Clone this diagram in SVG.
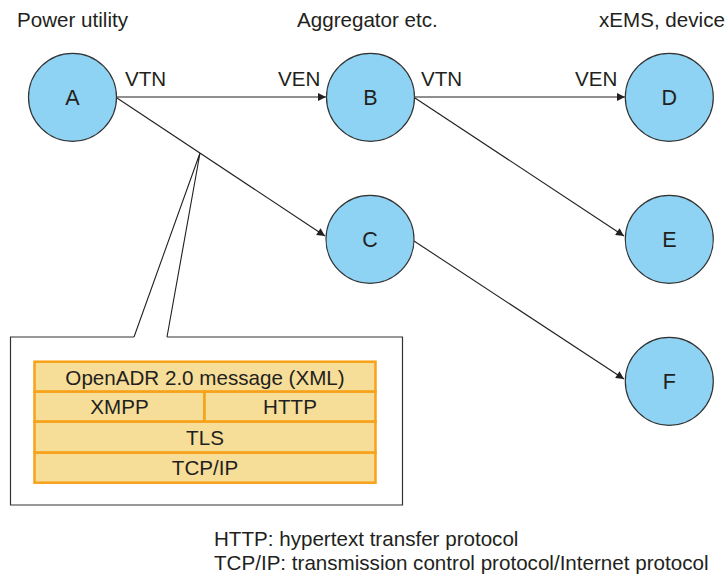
<svg xmlns="http://www.w3.org/2000/svg" width="727" height="575" viewBox="0 0 727 575">
<defs>
<style>
text{font-family:"Liberation Sans",Arial,Helvetica,sans-serif;fill:#231f20;font-size:20.6px}
.node circle{fill:#8ed3f3;stroke:#333;stroke-width:1.2}
.lbl{text-anchor:middle;font-size:21.5px}
.edge{stroke:#231f20;stroke-width:1.1;fill:none}
.layer{fill:#f7de98;stroke:#f7a21b;stroke-width:2.5}
.mid{text-anchor:middle}
</style>
<marker id="arr" viewBox="0 0 10 10" refX="10" refY="5" markerWidth="9" markerHeight="8" markerUnits="userSpaceOnUse" orient="auto">
<path d="M0,0 L10,5 L0,10 z" fill="#231f20"/>
</marker>
</defs>
<rect width="727" height="575" fill="#fff"/>
<g id="titles">
<text x="17" y="26.5">Power utility</text>
<text x="297" y="26.5">Aggregator etc.</text>
<text x="599" y="26.5">xEMS, device</text>
</g>
<g id="connectors">
<line class="edge" x1="117" y1="97" x2="326" y2="97" marker-end="url(#arr)"/>
<line class="edge" x1="415" y1="97" x2="625" y2="97" marker-end="url(#arr)"/>
<line class="edge" x1="117" y1="98" x2="325" y2="236" marker-end="url(#arr)"/>
<line class="edge" x1="415" y1="98" x2="624" y2="236" marker-end="url(#arr)"/>
<line class="edge" x1="414" y1="241" x2="624" y2="379" marker-end="url(#arr)"/>
<text x="125" y="86">VTN</text>
<text x="278" y="86">VEN</text>
<text x="421" y="86">VTN</text>
<text x="575" y="86">VEN</text>
</g>
<g id="A" class="node"><circle cx="72.5" cy="97.3" r="44"/><text class="lbl" x="72.5" y="105">A</text></g>
<g id="B" class="node"><circle cx="370.5" cy="97.3" r="44"/><text class="lbl" x="370.5" y="105">B</text></g>
<g id="C" class="node"><circle cx="370" cy="239.3" r="44"/><text class="lbl" x="370" y="247">C</text></g>
<g id="D" class="node"><circle cx="669.3" cy="97.3" r="44"/><text class="lbl" x="669.3" y="105">D</text></g>
<g id="E" class="node"><circle cx="669.3" cy="239.3" r="44"/><text class="lbl" x="669.3" y="247">E</text></g>
<g id="F" class="node"><circle cx="669.3" cy="381.3" r="44"/><text class="lbl" x="669.3" y="389">F</text></g>
<g id="callout">
<path class="edge" d="M134,337 L200,153 L167,337"/>
<path d="M134,337 H10.5 V505 H402.5 V337 H167" fill="none" stroke="#333" stroke-width="1.2"/>
<rect class="layer" x="34.5" y="361.7" width="341" height="30"/>
<rect class="layer" x="34.5" y="391.7" width="170" height="30"/>
<rect class="layer" x="204.5" y="391.7" width="171" height="30"/>
<rect class="layer" x="34.5" y="421.7" width="341" height="31"/>
<rect class="layer" x="34.5" y="452.7" width="341" height="30"/>
<text class="mid" x="205" y="385">OpenADR 2.0 message (XML)</text>
<text class="mid" x="119.5" y="414">XMPP</text>
<text class="mid" x="290" y="414">HTTP</text>
<text class="mid" x="205" y="445">TLS</text>
<text class="mid" x="205" y="475">TCP/IP</text>
</g>
<g id="legend">
<text x="214" y="546">HTTP: hypertext transfer protocol</text>
<text x="214" y="570">TCP/IP: transmission control protocol/Internet protocol</text>
</g>
</svg>
